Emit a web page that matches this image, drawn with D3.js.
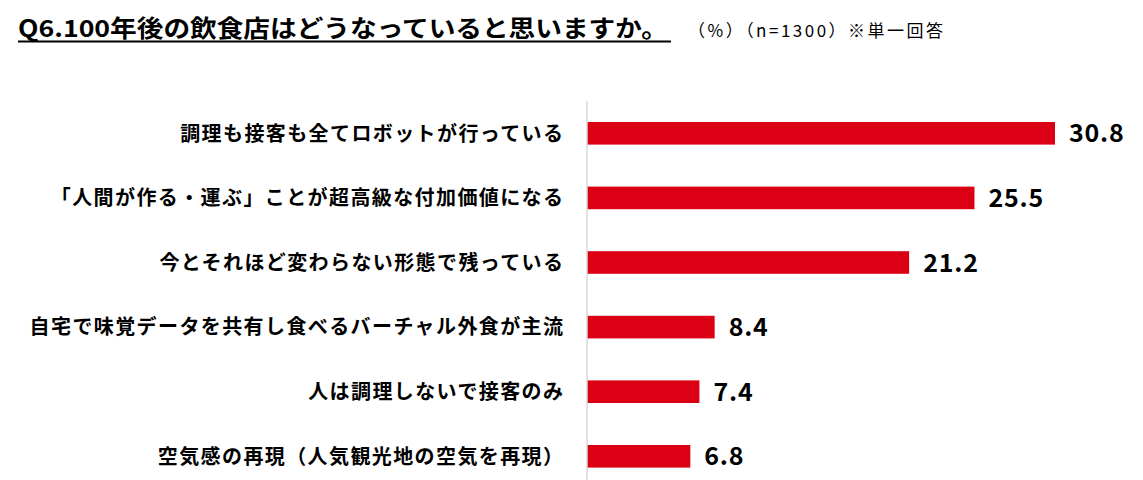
<!DOCTYPE html>
<html>
<head>
<meta charset="utf-8">
<script src="https://cdn.jsdelivr.net/npm/d3@7"></script>
<style>
  body { margin: 0; background: #fff; }
  svg text { font-family: "Noto Sans CJK JP", "Noto Sans", sans-serif; fill: #000; }
</style>
</head>
<body>
<svg id="chart"></svg>
<script>
// 回答項目と値 (%)
var categories = [
  "調理も接客も全てロボットが行っている",
  "「人間が作る・運ぶ」ことが超高級な付加価値になる",
  "今とそれほど変わらない形態で残っている",
  "自宅で味覚データを共有し食べるバーチャル外食が主流",
  "人は調理しないで接客のみ",
  "空気感の再現（人気観光地の空気を再現）"
];
var values = [30.8, 25.5, 21.2, 8.4, 7.4, 6.8];

var titleText = "Q6.100年後の飲食店はどうなっていると思いますか。";
var noteText = "（%）（n=1300）※単一回答";

// 表示サイズ
var size = { width: 1143, height: 480 };
var margin = { top: 101, left: 587 };

var svg = d3.select("#chart")
  .attr("width", size.width)
  .attr("height", size.height);

// タイトル
svg.append("text")
  .attr("x", 18)
  .attr("y", 37)
  .attr("font-size", 23.5)
  .attr("font-weight", "bold")
  .attr("textLength", 650)
  .attr("lengthAdjust", "spacingAndGlyphs")
  .text(titleText);

svg.append("line")
  .attr("x1", 18).attr("x2", 671)
  .attr("y1", 41.5).attr("y2", 41.5)
  .attr("stroke", "#000")
  .attr("stroke-width", 2);

svg.append("text")
  .attr("x", 688)
  .attr("y", 37)
  .attr("font-size", 17)
  .attr("textLength", 255)
  .attr("lengthAdjust", "spacing")
  .text(noteText);

// スケール
var x = d3.scaleLinear()
  .domain([0, 30.8])
  .range([0, 1055 - margin.left]);

var y = d3.scaleBand()
  .domain(categories)
  .range([margin.top, 488.6])
  .paddingInner(0.65)
  .paddingOuter(0.325);

var g = svg.append("g")
  .attr("transform", "translate(" + margin.left + ",0)");

// バー
g.selectAll("rect.bar")
  .data(values)
  .enter()
  .append("rect")
  .attr("class", "bar")
  .attr("x", 0)
  .attr("y", function(d, i){ return y(categories[i]); })
  .attr("width", function(d){ return x(d); })
  .attr("height", y.bandwidth())
  .attr("fill", "#dc0014");

// 軸線
g.append("line")
  .attr("x1", 0).attr("x2", 0)
  .attr("y1", margin.top).attr("y2", size.height)
  .attr("stroke", "#d9d9d9")
  .attr("stroke-width", 1.5);

// 値ラベル
g.selectAll("text.value")
  .data(values)
  .enter()
  .append("text")
  .attr("class", "value")
  .attr("x", function(d){ return x(d) + 14; })
  .attr("y", function(d, i){ return y(categories[i]) + y.bandwidth() / 2; })
  .attr("dy", "0.36em")
  .attr("font-size", 25)
  .attr("font-weight", "bold")
  .attr("letter-spacing", 0.8)
  .text(function(d){ return d.toFixed(1); });

// 項目ラベル
svg.selectAll("text.cat")
  .data(categories)
  .enter()
  .append("text")
  .attr("class", "cat")
  .attr("x", 564.4)
  .attr("y", function(d){ return y(d) + y.bandwidth() / 2; })
  .attr("dy", "0.36em")
  .attr("text-anchor", "end")
  .attr("font-size", 20)
  .attr("font-weight", "bold")
  .attr("letter-spacing", 1.4)
  .text(function(d){ return d; });
</script>
</body>
</html>
